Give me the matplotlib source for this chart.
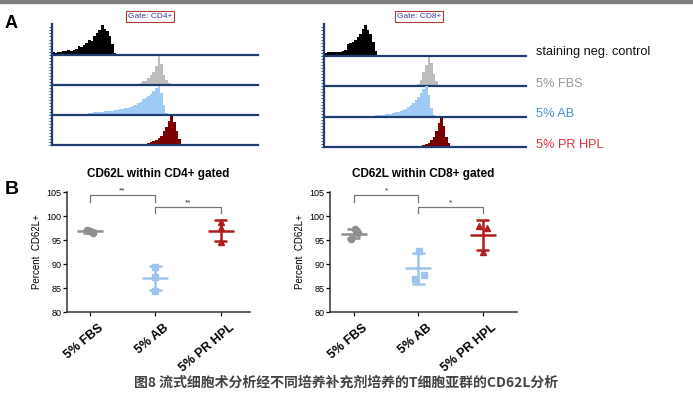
import numpy as np
import matplotlib
matplotlib.use('Agg')
import matplotlib.pyplot as plt

plt.rcParams['font.family'] = ['Liberation Sans', 'DejaVu Sans']

# ---- panel A: histogram counts (% of row height), 80 bins over [0, 1] ----
n_bins = 80
bin_w = 1.0 / n_bins

# (first bin index, counts)
cd4_neg = (0, [10, 8, 11, 9, 12, 13, 15, 12, 17, 19, 28, 25, 33, 38, 50, 45, 62, 70, 82, 97, 85, 78, 60, 35, 8])
cd4_fbs = (31, [2, 3, 5, 8, 12, 15, 22, 33, 45, 65, 98, 70, 35, 18, 6, 2])
cd4_ab = (10, [2, 3, 4, 5, 6, 8, 9, 10, 10, 11, 12, 13, 14, 15, 16, 17, 19, 21, 23, 25,
               28, 31, 35, 40, 45, 52, 58, 62, 70, 80, 90, 98, 75, 35, 8])
cd4_hpl = (31, [1, 2, 2, 3, 4, 5, 7, 9, 12, 16, 22, 30, 45, 60, 80, 98, 75, 45, 20, 5])

cd8_neg = (0, [10, 12, 11, 13, 12, 14, 13, 16, 20, 38, 42, 45, 50, 58, 70, 85, 98, 80, 70, 45, 15])
cd8_fbs = (36, [3, 8, 20, 45, 70, 97, 75, 40, 15, 5, 1])
cd8_ab = (15, [2, 3, 3, 4, 4, 5, 6, 7, 8, 9, 10, 11, 13, 15, 17, 20,
               23, 27, 32, 38, 45, 55, 65, 78, 90, 99, 70, 30, 5])
cd8_hpl = (38, [3, 6, 10, 15, 22, 35, 55, 80, 96, 70, 35, 12, 3])

row_labels = ['staining neg. control', '5% FBS', '5% AB', '5% PR HPL']
row_colors = ['#000000', '#bdbdbd', '#9fcaf5', '#7a0000']
label_colors = ['#111111', '#9a9a9a', '#4a90d0', '#e0303a']

# ---- panel B: percent CD62L+ per replicate ----
groups = ['5% FBS', '5% AB', '5% PR HPL']
cd4_vals = [[97.1, 96.8, 96.5], [89.4, 87.2, 84.4], [98.8, 97.4, 94.6]]
cd8_vals = [[97.3, 96.4, 95.3], [92.8, 87.7, 86.9], [98.0, 97.5, 92.4]]
cd4_sig = ['**', '**']
cd8_sig = ['*', '*']

cd4_jitter = [[-0.05, 0.0, 0.05], [0, 0, 0], [0, 0, 0]]
cd8_jitter = [[0.01, 0.06, -0.05], [0.01, 0.08, -0.05], [-0.06, 0.06, 0.01]]
grp_colors = ['#8f8f8f', '#9fc5ee', '#b01c1c']
grp_markers = ['o', 's', '^']

W, H = 693, 396
fig = plt.figure(figsize=(W / 100, H / 100), dpi=100)

# gray strip on top
fig.patches.append(plt.Rectangle((0, 1 - 3 / H), 1, 3 / H, transform=fig.transFigure,
                                 color='#7f7f7f', zorder=0))


def px_axes(x0, y0, x1, y1):
    return fig.add_axes([x0 / W, 1 - y1 / H, (x1 - x0) / W, (y1 - y0) / H])


def hist_panel(x0, x1, tops, hists):
    navy = '#1d3e6e'
    for i, (start, counts) in enumerate(hists):
        ax = px_axes(x0, tops[i], x1, tops[i + 1])
        edges = (start + np.arange(len(counts) + 1)) * bin_w
        ax.stairs(counts, edges, fill=True, color=row_colors[i], lw=0)
        ax.set_xlim(0, 1)
        ax.set_ylim(0, 100)
        for s in ['top', 'right']:
            ax.spines[s].set_visible(False)
        ax.spines['left'].set_color(navy)
        ax.spines['left'].set_linewidth(1.6)
        ax.spines['bottom'].set_color(navy)
        ax.spines['bottom'].set_linewidth(1.6)
        ax.set_xticks([])
        ax.set_yticks(np.arange(0, 100, 10))
        ax.set_yticklabels([])
        ax.tick_params(axis='y', length=2, width=0.6, color=navy)
        ax.patch.set_alpha(0)


hist_panel(52, 258, [24, 55, 85, 115, 145], [cd4_neg, cd4_fbs, cd4_ab, cd4_hpl])
hist_panel(324, 526, [24, 56, 86, 117, 147], [cd8_neg, cd8_fbs, cd8_ab, cd8_hpl])

for lab, col, y in zip(row_labels, label_colors, [52, 84, 114, 145]):
    fig.text(536 / W, 1 - y / H, lab, color=col, fontsize=9.2, va='center', ha='left')

for txt, xc in [('Gate: CD4+', 150), ('Gate: CD8+', 419)]:
    fig.text(xc / W, 1 - 16.5 / H, txt, color='#3a3a9a', fontsize=6, ha='center', va='center',
             bbox=dict(boxstyle='square,pad=0.2', fc='white', ec='#b03a3a', lw=0.8))

fig.text(5 / W, 1 - 23 / H, 'A', fontsize=13, fontweight='bold', va='center')
fig.text(5 / W, 1 - 190 / H, 'B', fontsize=14, fontweight='bold', va='center')


def scatter_panel(x0, x1, xlim, vals, jitter, sig, title):
    ax = px_axes(x0, 192, x1, 312)
    for i, v in enumerate(vals):
        v = np.array(v)
        m, sd = v.mean(), v.std(ddof=1)
        c = grp_colors[i]
        ax.hlines(m, i - 0.2, i + 0.2, color=c, lw=1.8, zorder=2)
        ax.vlines(i, m - sd, m + sd, color=c, lw=1.8, zorder=2)
        ax.hlines([m - sd, m + sd], i - 0.1, i + 0.1, color=c, lw=1.8, zorder=2)
        ax.plot(i + np.array(jitter[i]), v, ls='none', marker=grp_markers[i], ms=4.5,
                color=c, mec=c, zorder=3)
    # significance brackets
    for (a, b), yb, yd, s in [((0, 1), 104.4, 103.0, sig[0]), ((1, 2), 101.8, 100.6, sig[1])]:
        ax.plot([a, a, b, b], [yd, yb, yb, yd], color='#777777', lw=0.9, clip_on=False)
        ax.text((a + b) / 2, yb + 0.2, s, ha='center', va='bottom', fontsize=6, color='#333333')
    ax.set_ylim(80, 105)
    ax.set_xlim(*xlim)
    ax.set_yticks(np.arange(80, 106, 5))
    ax.set_xticks(range(len(groups)))
    ax.set_xticklabels([])
    # category labels, rotated and nudged to the right of the tick
    for i, g in enumerate(groups):
        ax.annotate(g, xy=(i, 0), xycoords=('data', 'axes fraction'), xytext=(6, -7),
                    textcoords='offset points', rotation=40, ha='right', va='top',
                    rotation_mode='anchor', fontsize=9, fontweight='bold')
    ax.tick_params(axis='y', labelsize=6.5, length=3, width=0.9, pad=1)
    ax.tick_params(axis='x', length=3, width=0.9)
    for s in ['top', 'right']:
        ax.spines[s].set_visible(False)
    for s in ['left', 'bottom']:
        ax.spines[s].set_linewidth(1.1)
        ax.spines[s].set_color('#333333')
    ax.set_ylabel('Percent  CD62L+', fontsize=7, labelpad=3)
    ax.set_title(title, fontsize=8.5, fontweight='bold', pad=11)
    return ax


scatter_panel(67, 250, (-0.35, 2.45), cd4_vals, cd4_jitter, cd4_sig, 'CD62L within CD4+ gated')
scatter_panel(330, 517, (-0.37, 2.53), cd8_vals, cd8_jitter, cd8_sig, 'CD62L within CD8+ gated')

fig.text(346 / W, 1 - 383 / H, '图8 流式细胞术分析经不同培养补充剂培养的T细胞亚群的CD62L分析',
         family=['Noto Sans CJK SC', 'DejaVu Sans'], fontsize=10, fontweight='bold',
         color='#444444', ha='center', va='center')

fig.savefig('out.png', dpi=100)
